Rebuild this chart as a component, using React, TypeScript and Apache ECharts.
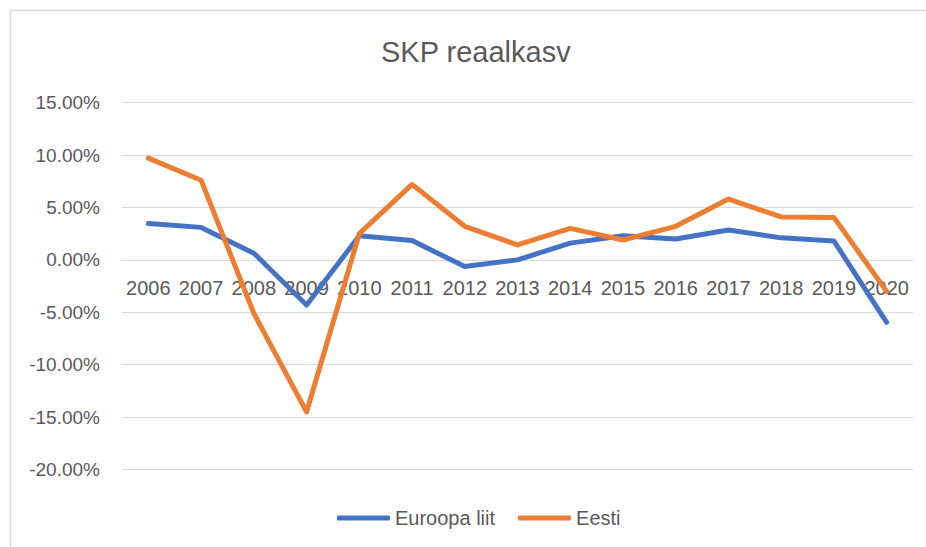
import React, { useEffect, useRef } from "react";
import * as echarts from "echarts";

const categories = ["2006", "2007", "2008", "2009", "2010", "2011", "2012", "2013", "2014", "2015", "2016", "2017", "2018", "2019", "2020"];
const euValues = [3.47, 3.1, 0.64, -4.3, 2.3, 1.84, -0.64, 0.0, 1.6, 2.3, 2.0, 2.85, 2.1, 1.8, -5.95];
const eestiValues = [9.7, 7.6, -5.1, -14.5, 2.5, 7.2, 3.2, 1.43, 3.0, 1.9, 3.2, 5.8, 4.1, 4.05, -3.0];
const seriesNames = ["Euroopa liit", "Eesti"];
const titleText = "SKP reaalkasv";
const yMin = -20;
const yMax = 15;

const FONT = "'Liberation Sans', Arial, sans-serif";
const TEXT = "#595959";
const GRID = "#D9D9D9";
const GRID_TOP = 102.6;
const GRID_BOTTOM = 77.4;
const PLOT_H = 547 - GRID_TOP - GRID_BOTTOM;

export default function App() {
  const ref = useRef<HTMLDivElement>(null);
  useEffect(() => {
    if (!ref.current) return;
    const chart = echarts.init(ref.current, undefined, { renderer: "svg" });
    const zeroOffset = -(PLOT_H * (0 - yMin)) / (yMax - yMin);
    chart.setOption({
      animation: false,
      backgroundColor: "#ffffff",
      title: {
        text: titleText,
        left: 381,
        top: 37,
        padding: 0,
        textStyle: { fontFamily: FONT, fontSize: 29, fontWeight: "normal", color: TEXT },
      },
      legend: {
        left: 337,
        top: 508,
        padding: 0,
        icon: "roundRect",
        itemWidth: 53,
        itemHeight: 5,
        itemGap: 23,
        textStyle: { fontFamily: FONT, fontSize: 20, color: TEXT },
        data: seriesNames,
      },
      grid: { left: 122, right: 13, top: GRID_TOP, bottom: GRID_BOTTOM, containLabel: false },
      xAxis: {
        type: "category",
        data: categories,
        boundaryGap: true,
        position: "bottom",
        offset: zeroOffset,
        axisLine: { show: true, onZero: false, lineStyle: { color: GRID, width: 1 } },
        axisTick: { show: false },
        axisLabel: { fontFamily: FONT, fontSize: 20, color: TEXT, margin: 18, interval: 0 },
        splitLine: { show: false },
      },
      yAxis: {
        type: "value",
        min: yMin,
        max: yMax,
        interval: 5,
        axisLine: { show: false },
        axisTick: { show: false },
        axisLabel: {
          fontFamily: FONT,
          fontSize: 19,
          color: TEXT,
          margin: 22,
          formatter: (v: number) => v.toFixed(2) + "%",
        },
        splitLine: { show: true, lineStyle: { color: GRID, width: 1 } },
      },
      graphic: [
        { type: "line", shape: { x1: 10, y1: 10.5, x2: 926, y2: 10.5 }, style: { stroke: GRID, lineWidth: 1.5 }, silent: true },
        { type: "line", shape: { x1: 10.5, y1: 10, x2: 10.5, y2: 547 }, style: { stroke: GRID, lineWidth: 1.5 }, silent: true },
      ],
      series: [
        {
          name: seriesNames[0],
          type: "line",
          data: euValues,
          symbol: "none",
          smooth: false,
          color: "#4472C4",
          lineStyle: { width: 5, color: "#4472C4", cap: "round", join: "round" },
          z: 3,
        },
        {
          name: seriesNames[1],
          type: "line",
          data: eestiValues,
          symbol: "none",
          smooth: false,
          color: "#ED7D31",
          lineStyle: { width: 5, color: "#ED7D31", cap: "round", join: "round" },
          z: 4,
        },
      ],
    });
    return () => chart.dispose();
  }, []);
  return <div ref={ref} style={{ position: "fixed", left: 0, top: 0, width: 926, height: 547 }} />;
}
